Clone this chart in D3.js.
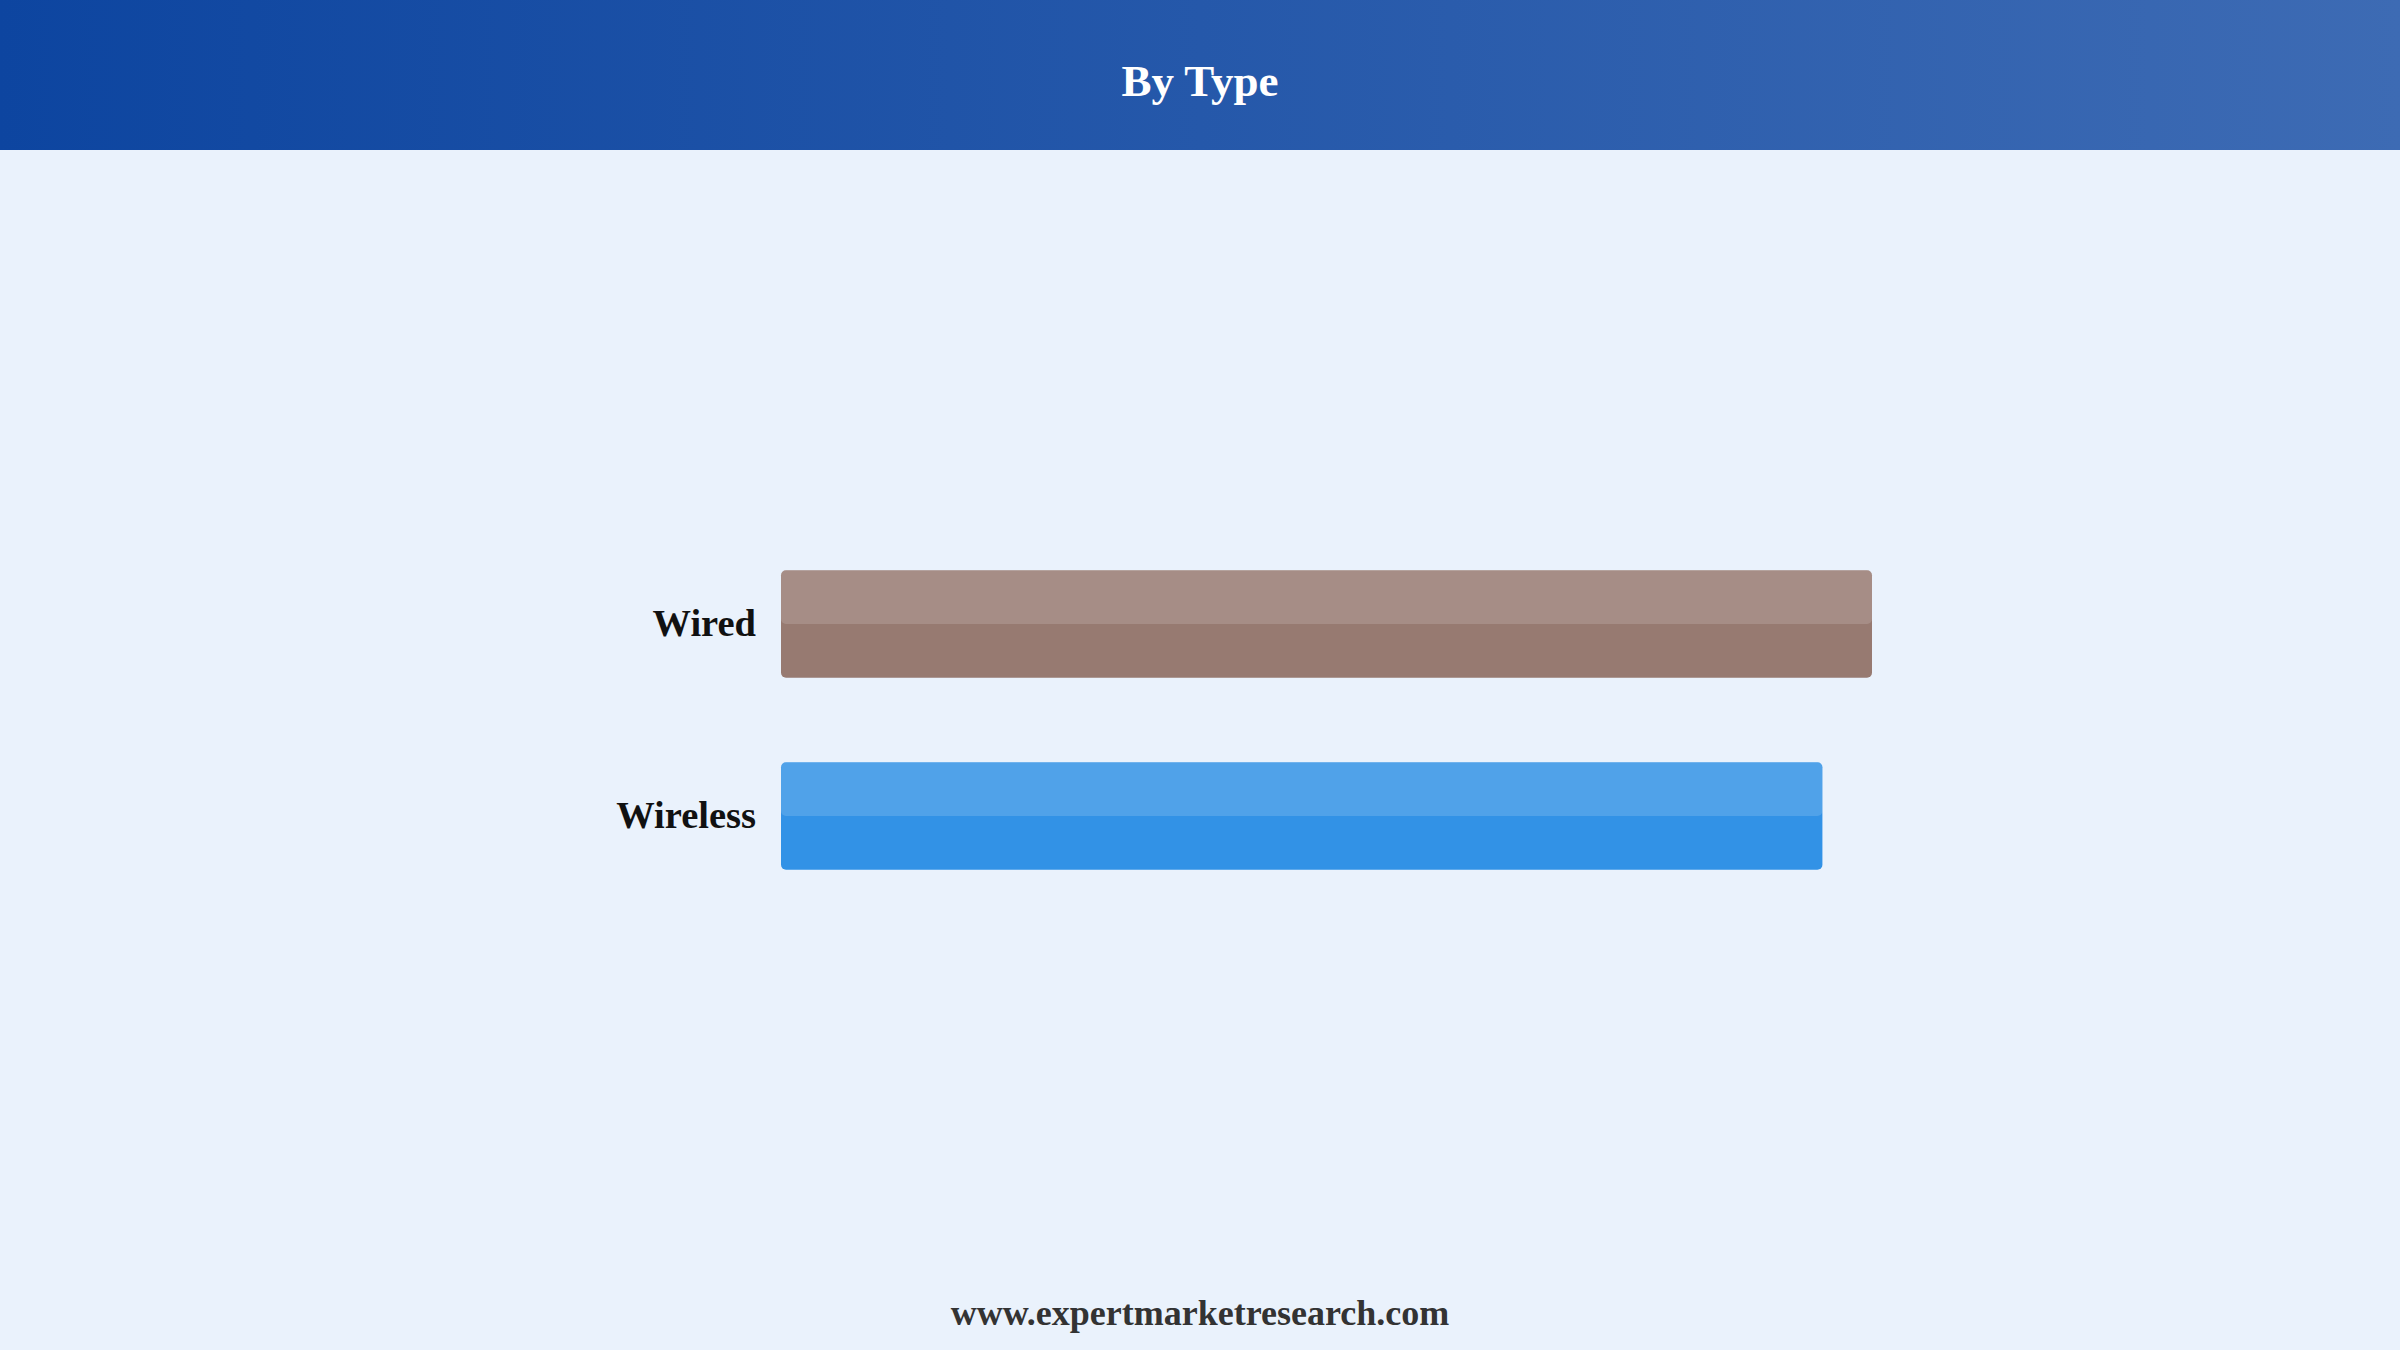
<!DOCTYPE html>
<html>
<head>
<meta charset="utf-8">
<script src="https://cdn.jsdelivr.net/npm/d3@7"></script>
<style>
  html, body { margin: 0; padding: 0; background: #eaf2fc; }
  svg { display: block; }
</style>
</head>
<body>
<svg id="chart" width="2400" height="1350"></svg>
<script>
const title = "By Type";
const categories = ["Wired", "Wireless"];
const values = [55, 52.5];
const colors = ["#977a71", "#3292e6"];
const footer = "www.expertmarketresearch.com";

const W = 2400, H = 1350;
const svg = d3.select("#chart");

const defs = svg.append("defs");
const grad = defs.append("linearGradient").attr("id", "hdr").attr("x1", "0%").attr("x2", "100%");
grad.append("stop").attr("offset", "0%").attr("stop-color", "#0d45a0");
grad.append("stop").attr("offset", "100%").attr("stop-color", "#3d6bb4");

svg.append("rect").attr("x", 0).attr("y", 0).attr("width", W).attr("height", H).attr("fill", "#eaf2fc");
svg.append("rect").attr("x", 0).attr("y", 0).attr("width", W).attr("height", 150).attr("fill", "url(#hdr)");

svg.append("text")
  .attr("x", W / 2).attr("y", 96)
  .attr("text-anchor", "middle")
  .attr("font-family", "'Liberation Serif', 'Times New Roman', serif")
  .attr("font-weight", "bold")
  .attr("font-size", 45)
  .attr("fill", "#ffffff")
  .text(title);

const x = d3.scaleLinear().domain([0, 55]).range([781, 1872]);
const y = d3.scaleBand().domain(categories).range([528, 912]).paddingInner(0.44).paddingOuter(0.22);

const g = svg.append("g");
const bars = g.selectAll("g.bar").data(categories).join("g").attr("class", "bar");

bars.append("rect")
  .attr("x", x(0))
  .attr("y", d => y(d))
  .attr("width", (d, i) => x(values[i]) - x(0))
  .attr("height", y.bandwidth())
  .attr("rx", 5).attr("ry", 5)
  .attr("fill", (d, i) => colors[i]);

bars.append("rect")
  .attr("x", x(0))
  .attr("y", d => y(d))
  .attr("width", (d, i) => x(values[i]) - x(0))
  .attr("height", y.bandwidth() / 2)
  .attr("rx", 5).attr("ry", 5)
  .attr("fill", "#ffffff")
  .attr("fill-opacity", 0.15);

bars.append("text")
  .attr("x", x(0) - 25)
  .attr("y", d => y(d) + y.bandwidth() / 2 + 12)
  .attr("text-anchor", "end")
  .attr("font-family", "'Liberation Serif', 'Times New Roman', serif")
  .attr("font-weight", "bold")
  .attr("font-size", 38.5)
  .attr("fill", "#111111")
  .text(d => d);

svg.append("text")
  .attr("x", W / 2).attr("y", 1325)
  .attr("text-anchor", "middle")
  .attr("font-family", "'Liberation Serif', 'Times New Roman', serif")
  .attr("font-weight", "bold")
  .attr("font-size", 36)
  .attr("fill", "#333333")
  .text(footer);
</script>
</body>
</html>
